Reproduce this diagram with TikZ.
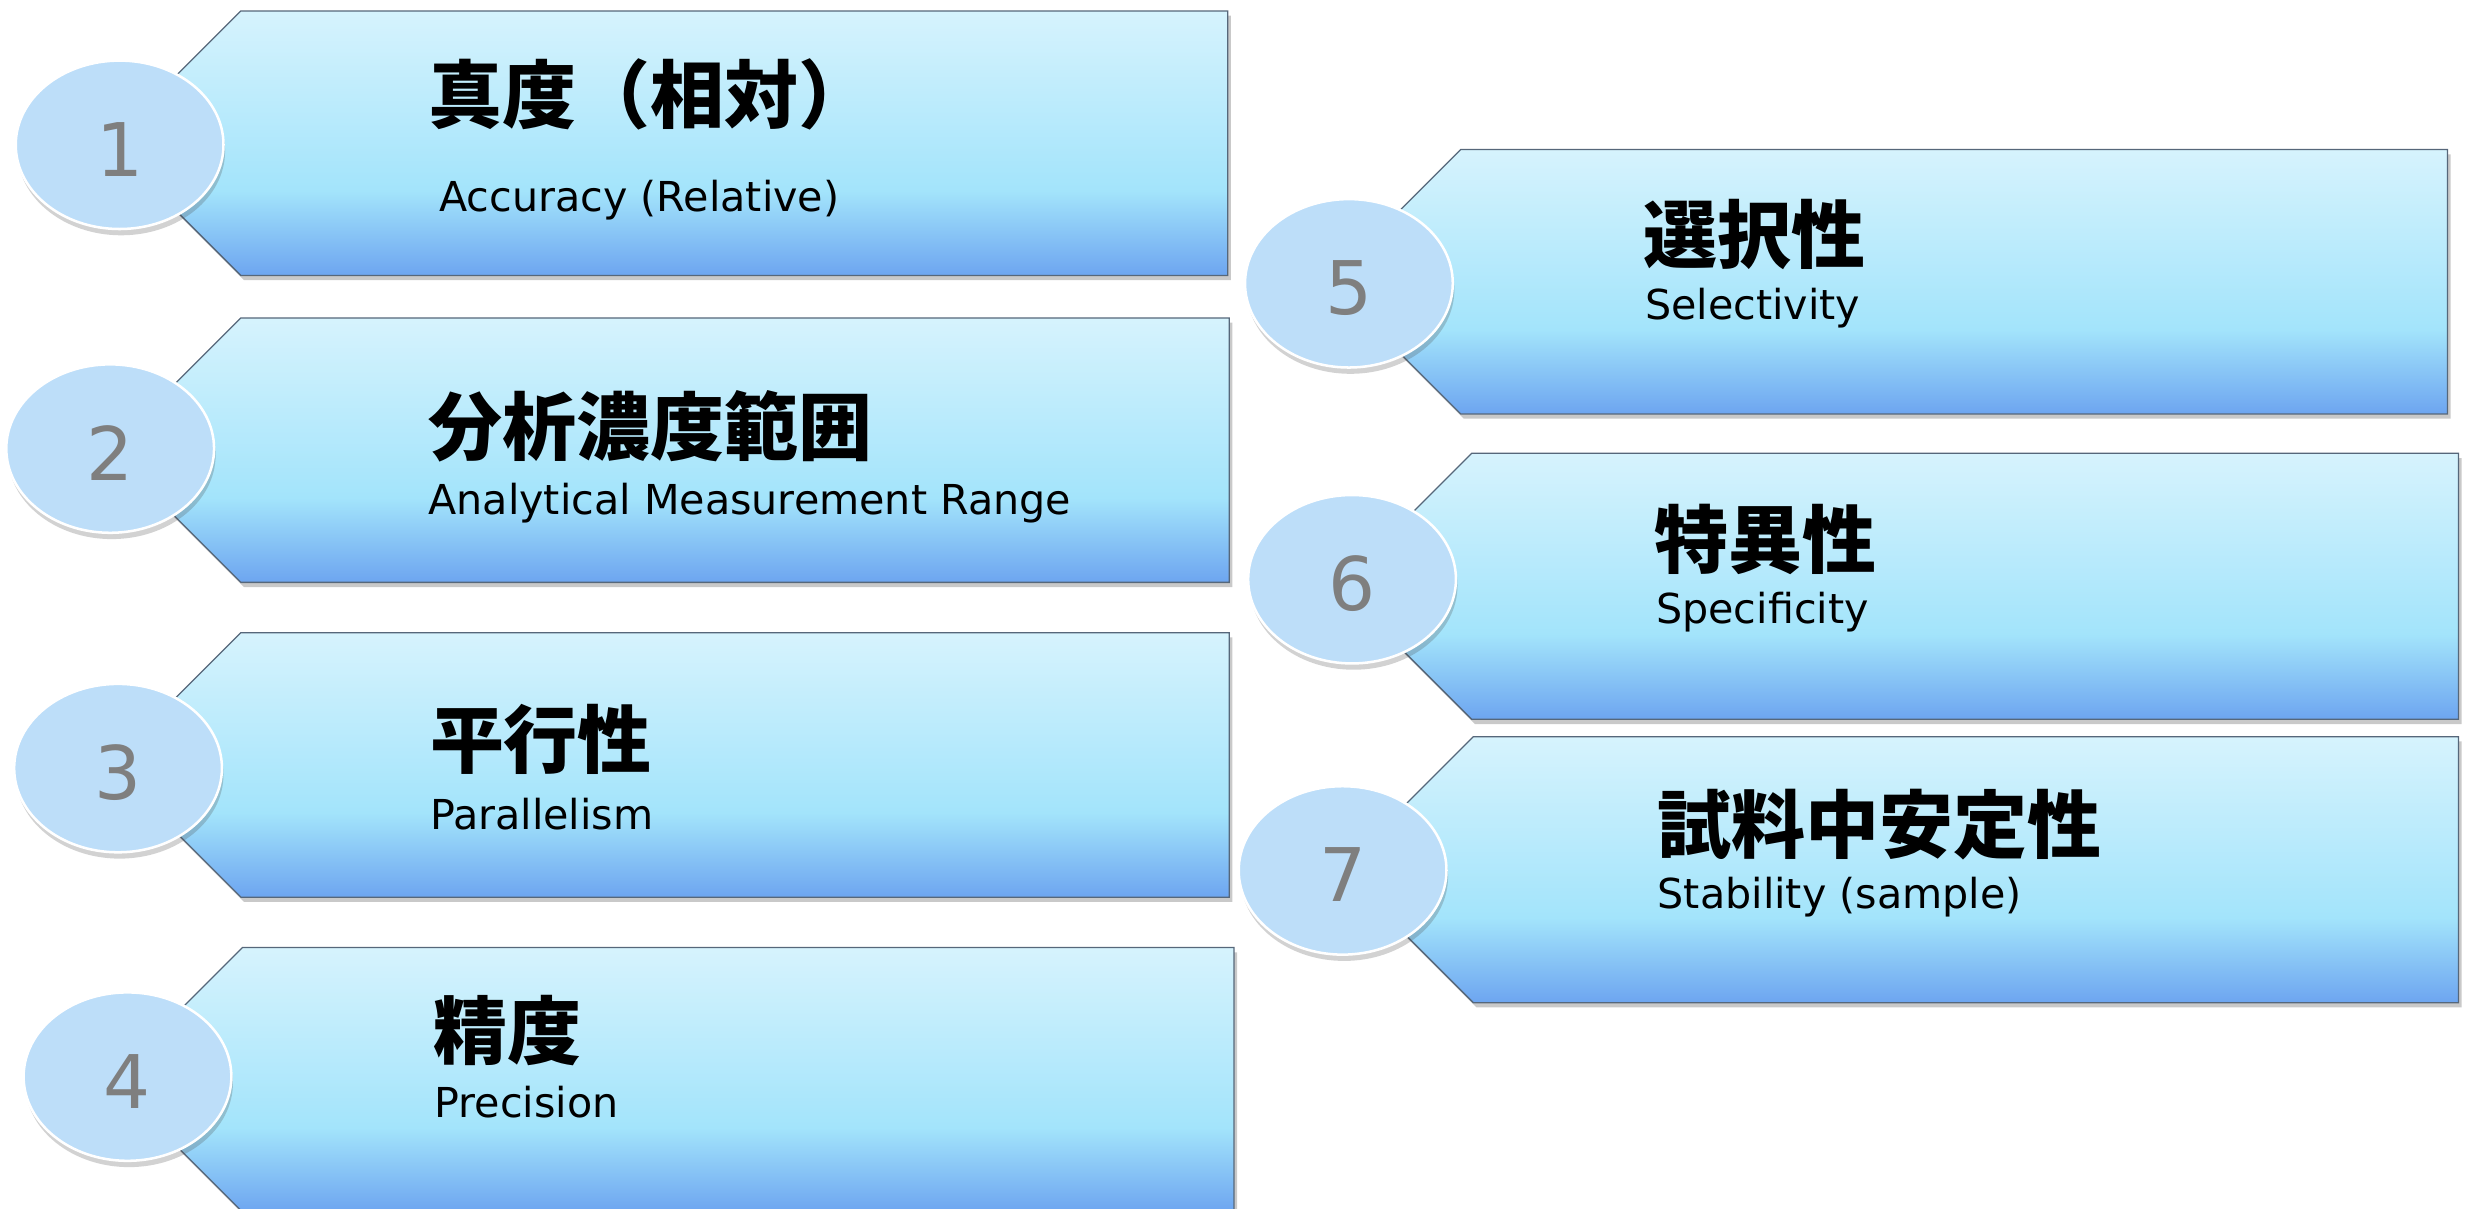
\documentclass[tikz,border=0pt]{standalone}
\usepackage{fontspec}
\setmainfont{DejaVu Sans}
\newfontfamily\jp{Noto Sans CJK JP}
\usetikzlibrary{shapes.geometric,shadows}
\definecolor{bdr}{HTML}{56677A}
\definecolor{cTop}{HTML}{D6F3FD}
\definecolor{cMid}{HTML}{A3E4FB}
\definecolor{cBot}{HTML}{6DA5F0}
\definecolor{circ}{HTML}{BDDEF9}
\definecolor{numc}{HTML}{7F7F7F}
\pgfdeclareverticalshading{boxshade}{100bp}{color(0bp)=(cBot); color(25bp)=(cBot); color(41bp)=(cMid); color(75bp)=(cTop); color(100bp)=(cTop)}
\tikzset{
  boxstyle/.style={draw=bdr, line width=0.8pt, shade, shading=boxshade,
    drop shadow={shadow xshift=2pt, shadow yshift=-3pt, opacity=0.3, fill=black!70}},
  numcirc/.style={ellipse, minimum width=132pt, minimum height=107pt, fill=circ,
    draw=white, line width=1.6pt, text=numc, font=\fontsize{47}{47}\selectfont, inner sep=0pt,
    text height=40pt, text depth=0pt,
    drop shadow={shadow xshift=1pt, shadow yshift=-4pt, opacity=0.25, fill=black!70}},
  jpt/.style={font=\jp\bfseries\fontsize{47}{47}\selectfont, inner sep=0pt, anchor=west},
  ent/.style={font=\fontsize{26.2}{26.2}\selectfont, inner sep=0pt, anchor=base west}
}
\newcommand\tagbox[4]{%
  \path[boxstyle] (#1,#3) -- (#2,#3) -- (#2,#4) -- (#1,#4) -- ({#1-(#4-#3)/2},{(#3+#4)/2}) -- cycle;}
\begin{document}
\begin{tikzpicture}[x=1pt,y=-1pt]
\useasboundingbox (0,0) rectangle (1568,768);
\clip (0,0) rectangle (1568,768);
% boxes
\tagbox{153}{780}{7}{175}
\tagbox{153}{781}{202}{370}
\tagbox{153}{781}{402}{570}
\tagbox{154}{784}{602}{770}
\tagbox{928}{1555}{95}{263}
\tagbox{935}{1562}{288}{457}
\tagbox{936}{1562}{468}{637}
% number ellipses
\node[numcirc] (e1) at (76,92) {1};
\node[numcirc] (e2) at (70,285) {2};
\node[numcirc] (e3) at (75,488) {3};
\node[numcirc] (e4) at (81,684) {4};
\node[numcirc] (e5) at (857,180) {5};
\node[numcirc] (e6) at (859,368) {6};
\node[numcirc] (e7) at (853,553) {7};
% texts
\node[jpt] (j1) at (272,60) {真度（相対）};
\node[ent] (s1) at (279,134.5) {Accuracy (Relative)};
\node[jpt] (j2) at (272,271) {分析濃度範囲};
\node[ent] (s2) at (272,327) {Analytical Measurement Range};
\node[jpt] (j3) at (273,470) {平行性};
\node[ent] (s3) at (273,527) {Parallelism};
\node[jpt] (j4) at (275,655) {精度};
\node[ent] (s4) at (276,710) {Precision};
\node[jpt] (j5) at (1044,149) {選択性};
\node[ent] (s5) at (1045,203) {Selectivity};
\node[jpt] (j6) at (1051,343) {特異性};
\node[ent] (s6) at (1052,396) {Specificity};
\node[jpt] (j7) at (1053,524) {試料中安定性};
\node[ent] (s7) at (1053,577) {Stability (sample)};
\end{tikzpicture}
\end{document}
